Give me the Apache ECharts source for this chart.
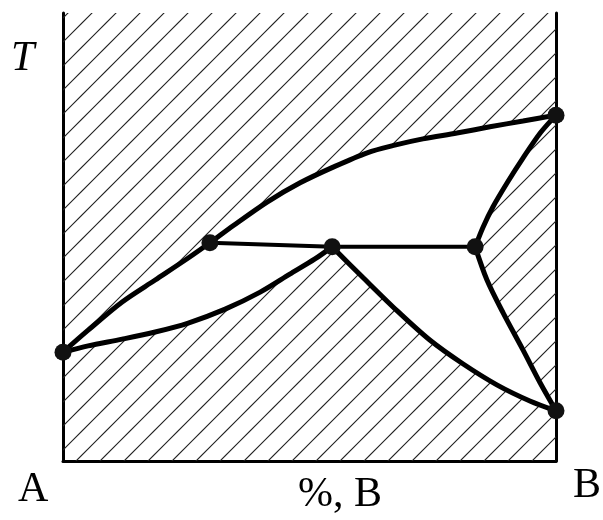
<!DOCTYPE html>
<html lang="en">
<head>
<meta charset="utf-8">
<title>Phase diagram A-B</title>
<style>
  html, body {margin:0; padding:0; background:#fff;}
  #container {width:603px; height:520px;}
</style>
</head>
<body>
<div id="container"></div>
<script src="https://cdn.jsdelivr.net/npm/echarts@6/dist/echarts.min.js"></script>
<script>
// key points, [%B, T]
var ptA = [0, 24.3];
var ptP1 = [29.8, 48.7];
var ptP2 = [54.6, 47.8];
var ptP3 = [83.6, 47.8];
var ptBtop = [100, 77.2];
var ptBbot = [100, 11.2];

// boundary curves
var liquidus = [ptA, [5.1, 29.2], [12.0, 35.5], [18.7, 40.4], [25.4, 45.3], ptP1, [34.5, 52.5],
                [41.4, 57.8], [48.1, 62.1], [54.8, 65.6], [61.7, 68.8], [67.3, 70.5], [73.0, 71.9],
                [79.9, 73.2], [86.6, 74.6], [93.3, 75.9], ptBtop];
var solidusLeft = [ptA, [5.1, 25.7], [12.0, 27.2], [18.7, 28.8], [25.4, 30.8], [32.9, 33.9],
                   [40.0, 37.7], [46.0, 41.7], [51.1, 45.1], ptP2];
var solvusMid = [ptP2, [60.9, 40.9], [67.8, 33.5], [74.4, 27.0], [81.1, 21.7], [88.0, 17.0],
                 [94.7, 13.4], ptBbot];
var solidusRight = [ptBtop, [96.8, 73.2], [93.3, 67.6], [90.1, 62.1], [87.2, 56.7], [85.2, 52.2], ptP3];
var solvusRight = [ptP3, [86.0, 40.4], [89.3, 33.0], [93.3, 24.8], [96.8, 17.4], ptBbot];
var isotherm = [ptP1, ptP2, ptP3];
var dots = [ptA, ptP1, ptP2, ptP3, ptBtop, ptBbot];

var yName = 'T';
var xName = '%, B';
var endNames = ['A', 'B'];

// unhatched (two-phase) regions
var iP1 = liquidus.indexOf(ptP1);
var upperRegion = liquidus.slice(iP1).concat(solidusRight.slice(1), [ptP2]);
var lensRegion = liquidus.slice(0, iP1 + 1).concat(solidusLeft.slice().reverse());
var rightRegion = [ptP2].concat(solvusRight, solvusMid.slice().reverse().slice(1));

// hatch pattern
var hatch = document.createElement('canvas');
hatch.width = 24; hatch.height = 24;
var hc = hatch.getContext('2d');
hc.strokeStyle = '#222';
hc.lineWidth = 1.2;
hc.beginPath();
hc.moveTo(-2, 11); hc.lineTo(11, -2);
hc.moveTo(7, 26); hc.lineTo(26, 7);
hc.stroke();

var myChart = echarts.init(document.getElementById('container'));

function curve(data, w, smooth) {
    return {
        type: 'line', data: data, smooth: smooth, symbol: 'none', clip: false, z: 5,
        lineStyle: {color: '#000', width: w}
    };
}

function label(text, x, y, italic) {
    return {
        type: 'text', left: x, top: y,
        style: {text: text, fontFamily: 'Liberation Serif', fontSize: 42,
                fontStyle: italic ? 'italic' : 'normal', fill: '#000'}
    };
}

var options = {
    animation: false,
    backgroundColor: '#fff',
    grid: {left: 63, right: 47, top: 13, bottom: 59},
    xAxis: {
        type: 'value', min: 0, max: 100,
        axisLine: {lineStyle: {color: '#000', width: 3}},
        axisTick: {show: false}, axisLabel: {show: false}, splitLine: {show: false}
    },
    yAxis: [{
        type: 'value', min: 0, max: 100,
        axisLine: {show: true, lineStyle: {color: '#000', width: 3}},
        axisTick: {show: false}, axisLabel: {show: false}, splitLine: {show: false}
    }, {
        type: 'value', min: 0, max: 100, position: 'right',
        axisLine: {show: true, lineStyle: {color: '#000', width: 3}},
        axisTick: {show: false}, axisLabel: {show: false}, splitLine: {show: false}
    }],
    graphic: [
        label(yName, 11, 38, true),
        label(endNames[0], 18, 469),
        label(xName, 298, 474),
        label(endNames[1], 573, 465)
    ],
    series: [
        {
            type: 'custom', data: [[0, 0]], z: 1, clip: false,
            renderItem: function (params, api) {
                var toPx = function (pts) { return pts.map(function (p) { return api.coord(p); }); };
                var p0 = api.coord([0, 0]), p1 = api.coord([100, 100]);
                return {
                    type: 'group',
                    children: [
                        {type: 'rect', shape: {x: p0[0], y: p1[1], width: p1[0] - p0[0], height: p0[1] - p1[1]},
                         style: {fill: {image: hatch, repeat: 'repeat'}}},
                        {type: 'polygon', shape: {points: toPx(upperRegion)}, style: {fill: '#fff'}},
                        {type: 'polygon', shape: {points: toPx(lensRegion)}, style: {fill: '#fff'}},
                        {type: 'polygon', shape: {points: toPx(rightRegion)}, style: {fill: '#fff'}}
                    ]
                };
            }
        },
        curve(liquidus, 5, 0.3),
        curve(solidusLeft, 5, 0.3),
        curve(solvusMid, 5, 0.3),
        curve(solidusRight, 5, 0.3),
        curve(solvusRight, 5, 0.3),
        curve(isotherm, 4, false),
        {
            type: 'scatter', data: dots, symbolSize: 17, clip: false, z: 6,
            itemStyle: {color: '#111', opacity: 1}
        }
    ]
};
myChart.setOption(options);
</script>
</body>
</html>
